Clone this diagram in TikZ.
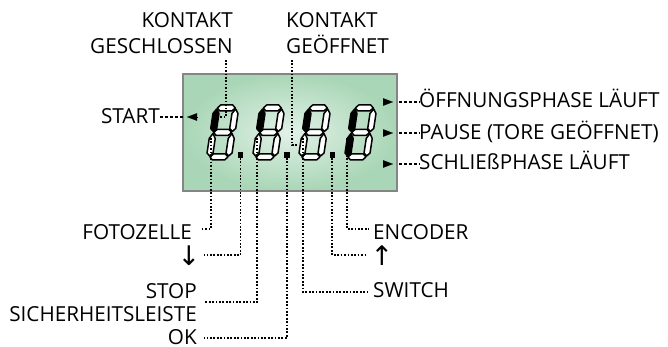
\documentclass[tikz,border=0pt]{standalone}
\usepackage{fontspec}
\setmainfont{Open Sans}
\newfontfamily\symfont{DejaVu Sans}
\usepackage{xcolor}
\usetikzlibrary{arrows.meta}
\definecolor{lcdout}{HTML}{A9D6B6}
\definecolor{lcdin}{HTML}{E2F1E7}
\definecolor{lcdedge}{HTML}{858585}

\tikzset{
  pics/digit/.style 2 args={code={
    \begin{scope}[xslant=.15]
      % ---- horizontal segments
      \foreach \yy in {-3,-27.5,-52}
        \draw[seg] (3.5,\yy) -- ++(3,3) -- ++(12,0) -- ++(3,-3) -- ++(-3,-3) -- ++(-12,0) -- cycle;
      % ---- vertical segments
      \draw[seg] (22,-4) -- ++(3,-3) -- ++(0,-14.5) -- ++(-3,-5) -- ++(-3,5) -- ++(0,14.5) -- cycle;
      \draw[seg] (22,-28.5) -- ++(3,-3) -- ++(0,-15) -- ++(-3,-4.5) -- ++(-3,4.5) -- ++(0,15) -- cycle;
      \draw[seg,fill=#1] (3,-4) -- ++(3,-3) -- ++(0,-14.5) -- ++(-3,-5) -- ++(-3,5) -- ++(0,14.5) -- cycle;
      \draw[seg,fill=#2] (3,-28.5) -- ++(3,-3) -- ++(0,-15) -- ++(-3,-4.5) -- ++(-3,4.5) -- ++(0,15) -- cycle;
    \end{scope}
  }}
}

\begin{document}
\begin{tikzpicture}[x=1pt,y=-1pt,
  font=\fontsize{20.7}{26}\selectfont,
  seg/.style={draw=black,fill=white,line width=1.5pt,line join=round},
  lbl/.style={inner sep=0pt,text=black},
  sym/.style={inner sep=0pt,font=\symfont\fontsize{27}{27}\selectfont},
  dotb/.style={rectangle,fill=black,minimum size=5.6pt,inner sep=0pt},
  conn/.style={line width=1.7pt,dash pattern=on 1.7pt off 1.7pt},
  lead/.style={line width=1.3pt,dash pattern=on 3.4pt off 1.5pt},
  ptr/.style={-{Triangle[length=10pt,width=7.5pt]},line width=.1pt}]
\useasboundingbox (0,0) rectangle (668,347);

% ---- display
\draw[lcdedge,line width=2.6pt,inner color=lcdin,outer color=lcdout,miter limit=2] (183,74) rectangle (397,191);
\pic at (206,160) {digit={white}{black}};
\pic at (252,160) {digit={white}{black}};
\pic at (298,160) {digit={white}{black}};
\pic at (344,160) {digit={black}{black}};
\node[dotb] (dot1) at (240.5,155) {};
\node[dotb] (dot2) at (286.7,155) {};
\node[dotb] (dot3) at (332.3,155) {};
\coordinate (dg1) at (211,138);
\coordinate (dg2) at (257,138);
\coordinate (dg3) at (303,138);
\coordinate (dg4) at (347,138);
\coordinate (top1) at (215,117);
\coordinate (top2) at (298,145);

% ---- labels above
\node[lbl,align=right,anchor=south east] (closed) at (233,54) {KONTAKT\\GESCHLOSSEN};
\node[lbl,align=left,anchor=south west] (opened) at (286,54) {KONTAKT\\GEÖFFNET};
\draw[conn] ([shift={(-7,6)}]closed.south east) |- (top1);
\draw[conn] ([shift={(6,6)}]opened.south west) |- (top2);

% ---- start
\node[lbl,anchor=base east] (start) at (160,124) {START};
\coordinate (startin) at (183,117);
\coordinate (startb) at (197,117);
\coordinate (startt) at (187,117);
\draw[lead] ([yshift=7pt]start.base east) -- (startin);
\draw[ptr] (startb) -- (startt);

% ---- labels right
\node[lbl,anchor=base west] (phopen) at (419,108) {ÖFFNUNGSPHASE LÄUFT};
\node[lbl,anchor=base west] (phpause) at (419,140) {PAUSE (TORE GEÖFFNET)};
\node[lbl,anchor=base west] (phclose) at (419,170) {SCHLIEßPHASE LÄUFT};
\foreach \n/\yy in {phopen/102,phpause/133,phclose/164}{
  \coordinate (\n-in) at (399,\yy);
  \draw[lead] (\n-in) -- (\n-in -| \n.west);
  \draw[ptr] (383,\yy) -- (393,\yy);
}

% ---- labels below left
\node[lbl,anchor=base east] (foto) at (192,239) {FOTOZELLE};
\node[sym,anchor=center] (down) at (189,256) {↓};
\node[lbl,align=right,anchor=north east,font=\fontsize{20.7}{23}\selectfont] (stop) at (197,283) {STOP\\SICHERHEITSLEISTE};
\node[lbl,anchor=base east] (okay) at (197,344) {OK};
\draw[conn] (dg1) |- ([shift={(10,-10)}]foto.base east);
\draw[conn] (dot1.south) |- ([shift={(3,-1)}]down.east);
\draw[conn] (dg2) |- ([xshift=7pt]stop.east);
\draw[conn] (dot2.south) |- ([shift={(7,-6)}]okay.base east);

% ---- labels below right
\node[lbl,anchor=base west] (enc) at (373,239) {ENCODER};
\node[sym,anchor=center] (up) at (382,256) {↑};
\node[lbl,anchor=base west] (swi) at (373,297) {SWITCH};
\draw[conn] (dg4) |- ([shift={(-4,-10)}]enc.base west);
\draw[conn] (dot3.south) |- ([shift={(-3,-1)}]up.west);
\draw[conn] (dg3) |- ([shift={(-5,-5)}]swi.base west);
\end{tikzpicture}
\end{document}
